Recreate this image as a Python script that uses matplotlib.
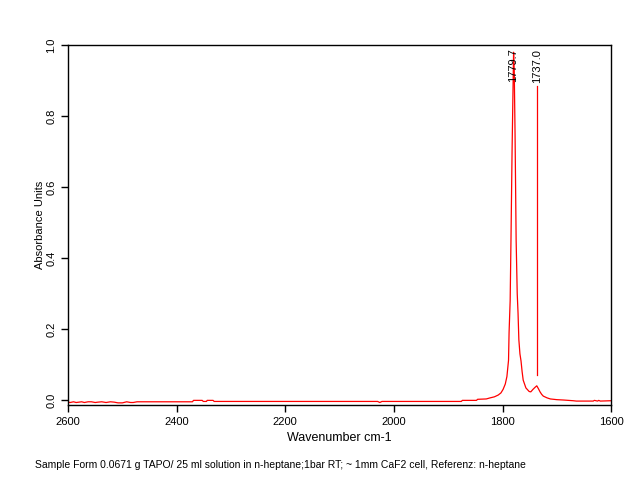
import matplotlib.pyplot as plt

plt.rcParams['font.family'] = ['Liberation Sans', 'DejaVu Sans']

# spectrum (wavenumber cm-1, absorbance)
wavenumber = [2600, 2596, 2590, 2585, 2580, 2575, 2570, 2563, 2557, 2550,
              2545, 2538, 2530, 2522, 2515, 2508, 2500, 2492, 2485, 2480,
              2473, 2440, 2400, 2371, 2369, 2353, 2351, 2345, 2344, 2333,
              2331, 2250, 2150, 2030, 2026, 2022, 1950, 1876, 1874, 1848,
              1846, 1830, 1823, 1815, 1808, 1803, 1799, 1795, 1792, 1789,
              1788, 1786, 1784.5, 1782.5, 1780.5, 1779.7, 1778.5, 1777,
              1775, 1773, 1771.5, 1770, 1768, 1766, 1764, 1762, 1757, 1751,
              1748, 1744, 1740, 1737, 1734, 1731, 1728, 1725, 1718, 1712,
              1700, 1688, 1670, 1664, 1640, 1633, 1631, 1625, 1623, 1620, 1600]
absorbance = [-0.006, -0.007, -0.005, -0.007, -0.006, -0.005, -0.007, -0.005,
              -0.005, -0.007, -0.006, -0.005, -0.007, -0.005, -0.006, -0.008,
              -0.008, -0.005, -0.007, -0.007, -0.005, -0.005, -0.005, -0.005,
              -0.001, -0.001, -0.004, -0.004, -0.001, -0.001, -0.004, -0.004,
              -0.004, -0.004, -0.007, -0.004, -0.004, -0.004, -0.001, -0.001,
              0.002, 0.003, 0.006, 0.009, 0.014, 0.020, 0.030, 0.045, 0.066,
              0.112, 0.19, 0.28, 0.45, 0.70, 0.90, 0.98, 0.93, 0.75, 0.45,
              0.30, 0.245, 0.17, 0.13, 0.11, 0.08, 0.056, 0.034, 0.024, 0.023,
              0.030, 0.036, 0.040, 0.032, 0.023, 0.016, 0.011, 0.006, 0.003,
              0.001, 0.000, -0.002, -0.003, -0.003, -0.003, -0.001, -0.003,
              -0.001, -0.003, -0.002]

peak_pos = [1779.7, 1737.0]
peak_labels = ['1779.7', '1737.0']
peak_height = [0.98, 0.04]

footnote = ("Sample Form 0.0671 g TAPO/ 25 ml solution in n-heptane;1bar RT; "
            "~ 1mm CaF2 cell, Referenz: n-heptane")

fig = plt.figure(figsize=(6.42, 4.96), dpi=100)
ax = fig.add_axes([0.106, 0.1835, 0.846, 0.7255])

ax.plot(wavenumber, absorbance, color='red', linewidth=0.9)

# peak markers
for pos, lab, h in zip(peak_pos, peak_labels, peak_height):
    top = 0.885
    low = h + 0.03
    if low < top:
        ax.plot([pos, pos], [top, low], color='red', linewidth=0.9)
    ax.text(pos, 0.99, lab, rotation=90, ha='center', va='top', fontsize=8)

ax.set_xlim(2600, 1600)
ax.set_ylim(-0.014, 1.0)
ax.set_xticks([2600, 2400, 2200, 2000, 1800, 1600])
ax.set_yticks([0.0, 0.2, 0.4, 0.6, 0.8, 1.0])
ax.set_yticklabels(['0.0', '0.2', '0.4', '0.6', '0.8', '1.0'], rotation=90, va='center')
ax.tick_params(labelsize=8, length=5, width=1, direction='out')
for s in ax.spines.values():
    s.set_linewidth(1)

ax.set_xlabel('Wavenumber cm-1', fontsize=9, labelpad=4)
ax.set_ylabel('Absorbance Units', fontsize=8, labelpad=1)

fig.text(0.055, 0.062, footnote, fontsize=7.5, ha='left', va='center')

fig.savefig('out.png', dpi=100)
